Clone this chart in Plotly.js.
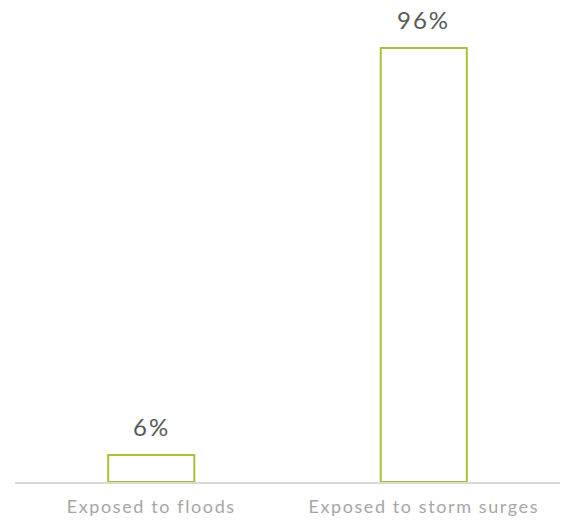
<!DOCTYPE html>
<html>
<head>
<script src="https://cdn.plot.ly/plotly-3.0.1.min.js"></script>
<style>
html,body{margin:0;padding:0;background:#fff;}
.xtick text{letter-spacing:1.6px;}
.annotation-text{letter-spacing:2px;}
</style>
</head>
<body>
<div id="chart" style="width:570px;height:524px;"></div>
<script>
const categories = ["Exposed to floods", "Exposed to storm surges"];
const values = [6, 96];
const labels = ["6%", "96%"];

const trace = {
  type: "bar",
  x: categories,
  y: values,
  marker: {color: "#ffffff", line: {color: "#a5c23a", width: 2}},
  hoverinfo: "skip"
};

const annotations = categories.map((c, i) => ({
  x: c, y: values[i], text: labels[i], showarrow: false,
  yanchor: "bottom", yshift: 12,
  font: {family: "Lato, sans-serif", size: 24, color: "#595959"}
}));

const layout = {
  width: 570, height: 524,
  margin: {l: 15, r: 10, t: 30, b: 42},
  paper_bgcolor: "#fff", plot_bgcolor: "#fff",
  bargap: 0.684,
  showlegend: false,
  xaxis: {
    showline: true, linecolor: "#d9d9d9", linewidth: 1.5,
    ticks: "", showgrid: false, ticklabelstandoff: 8,
    tickfont: {family: "Lato, sans-serif", size: 18, color: "#a6a6a6"}
  },
  yaxis: {range: [0, 100], visible: false, showgrid: false, zeroline: false},
  annotations: annotations
};

Plotly.newPlot("chart", [trace], layout, {displayModeBar: false, staticPlot: true});
</script>
</body>
</html>
